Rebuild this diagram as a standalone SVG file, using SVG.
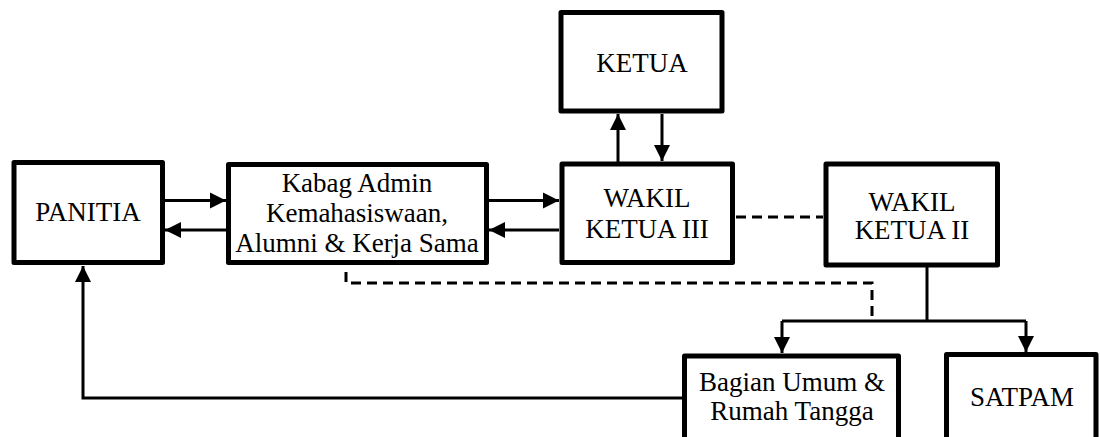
<svg xmlns="http://www.w3.org/2000/svg" width="1100" height="437" viewBox="0 0 1100 437">
<style>
.box{fill:#fff;stroke:#000;stroke-width:5;stroke-linejoin:round}
.t{font-size:27px;fill:#000;text-anchor:middle}
.c{fill:none;stroke:#000;stroke-width:3}
.d{fill:none;stroke:#000;stroke-width:3;stroke-dasharray:10 6}
</style>
<defs>
<marker id="ah" markerUnits="userSpaceOnUse" markerWidth="18" markerHeight="18" viewBox="0 0 18 18" refX="16" refY="9" orient="auto">
<path d="M0,1 L16,9 L0,17 Z" fill="#000"/>
</marker>
</defs>
<rect width="1100" height="437" fill="#fff"/>
<g id="connectors">
<line class="c" x1="165" y1="200.5" x2="226" y2="200.5" marker-end="url(#ah)"/>
<line class="c" x1="226" y1="230" x2="165" y2="230" marker-end="url(#ah)"/>
<line class="c" x1="489" y1="200.5" x2="559" y2="200.5" marker-end="url(#ah)"/>
<line class="c" x1="559" y1="230" x2="489" y2="230" marker-end="url(#ah)"/>
<line class="c" x1="618" y1="162" x2="618" y2="114" marker-end="url(#ah)"/>
<line class="c" x1="662" y1="114" x2="662" y2="161" marker-end="url(#ah)"/>
<line class="d" x1="736" y1="217" x2="823" y2="217"/>
<path class="d" d="M346,272 V283 H872 V321"/>
<path class="c" d="M927,267 V321"/>
<path class="c" d="M782,321 H1026"/>
<line class="c" x1="782" y1="321" x2="782" y2="353" marker-end="url(#ah)"/>
<line class="c" x1="1026" y1="321" x2="1026" y2="352" marker-end="url(#ah)"/>
<path class="c" d="M682,398 H83 V266" marker-end="url(#ah)"/>
</g>
<g font-family="Liberation Serif, Times New Roman, serif">
<g id="panitia">
<rect class="box" x="14" y="162.5" width="148.5" height="100"/>
<text class="t" x="88" y="221">PANITIA</text>
</g>
<g id="kabag">
<rect class="box" x="228.5" y="164.5" width="258" height="98"/>
<text class="t" x="357" y="192">Kabag Admin</text>
<text class="t" x="357" y="222">Kemahasiswaan,</text>
<text class="t" x="357" y="252">Alumni &amp; Kerja Sama</text>
</g>
<g id="ketua">
<rect class="box" x="561" y="12.5" width="161" height="98.5"/>
<text class="t" x="642" y="72">KETUA</text>
</g>
<g id="wakil3">
<rect class="box" x="562" y="164" width="170.5" height="98.5"/>
<text class="t" x="647" y="207">WAKIL</text>
<text class="t" x="647" y="238">KETUA III</text>
</g>
<g id="wakil2">
<rect class="box" x="826" y="164" width="171.5" height="101"/>
<text class="t" x="912" y="211">WAKIL</text>
<text class="t" x="912" y="239">KETUA II</text>
</g>
<g id="bagian">
<rect class="box" x="684.5" y="356" width="214" height="100"/>
<text class="t" x="792" y="391">Bagian Umum &amp;</text>
<text class="t" x="792" y="420">Rumah Tangga</text>
</g>
<g id="satpam">
<rect class="box" x="946.5" y="354.5" width="149.5" height="100"/>
<text class="t" x="1022" y="406">SATPAM</text>
</g>
</g>
</svg>
